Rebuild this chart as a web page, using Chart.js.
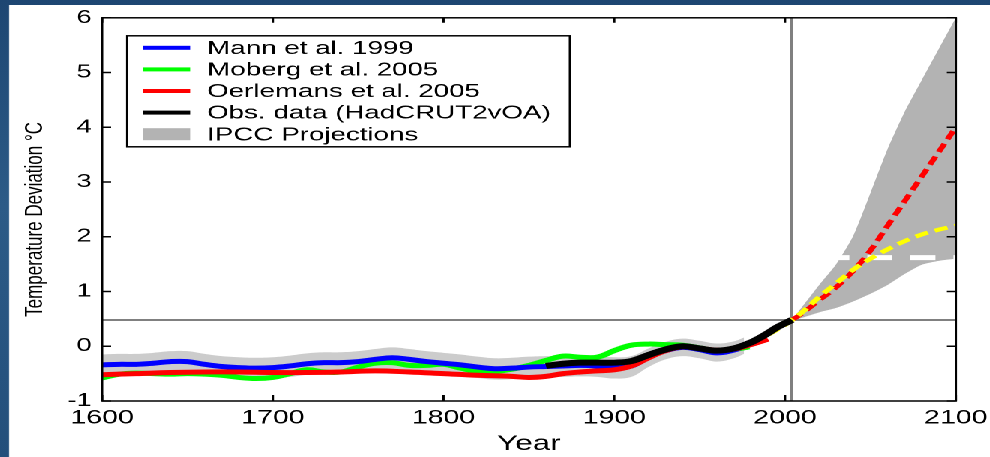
<!DOCTYPE html>
<html>
<head>
<meta charset="utf-8">
<script src="https://cdn.jsdelivr.net/npm/chart.js@4.4.1/dist/chart.umd.min.js"></script>
<style>
  html, body { margin: 0; padding: 0; width: 990px; height: 457px; overflow: hidden;
    background: linear-gradient(180deg, #1d4672 0%, #2c5b87 45%, #234f7b 100%); }
  /* the original figure is stretched 1.5x horizontally */
  #stretch { position: absolute; left: 0; top: 0; width: 660px; height: 457px;
    transform: scaleX(1.5); transform-origin: 0 0; }
  #panel { position: absolute; left: 6px; top: 5px; width: 654px; height: 452px; background: #fff; }
  #chart { position: absolute; left: 0; top: 0; }
</style>
</head>
<body>
<div id="stretch">
  <div id="panel"></div>
  <canvas id="chart" width="660" height="457"></canvas>
</div>
<script>
const FONT = "'Liberation Sans', Arial, sans-serif";

const seriesNames = ['Mann et al. 1999', 'Moberg et al. 2005', 'Oerlemans et al. 2005', 'Obs. data (HadCRUT2vOA)', 'IPCC Projections'];
const yearTicks = [1600, 1700, 1800, 1900, 2000, 2100];
const tempTicks = [-1, 0, 1, 2, 3, 4, 5, 6];

// reference lines
const refLineYears = [1600, 2100];
const refLineLevel = [0.48, 0.48];
const refYear = [2004, 2004];
const refYearSpan = [-1, 6];

// Mann et al. 1999 with its uncertainty band
const mannYears = [1600, 1610, 1620, 1630, 1640, 1650, 1660, 1670, 1680, 1690, 1700, 1710, 1720, 1730, 1740, 1750, 1760, 1770, 1780, 1790,
  1800, 1810, 1820, 1830, 1840, 1850, 1860, 1870, 1880, 1890, 1900, 1910, 1920, 1930, 1940, 1950, 1960, 1970, 1976];
const mannValues = [-0.34, -0.33, -0.33, -0.31, -0.28, -0.28, -0.33, -0.37, -0.39, -0.40, -0.39, -0.36, -0.32, -0.30, -0.30, -0.28, -0.24, -0.21, -0.24, -0.28,
  -0.31, -0.34, -0.38, -0.41, -0.40, -0.38, -0.37, -0.36, -0.35, -0.36, -0.39, -0.36, -0.20, -0.08, -0.02, -0.06, -0.12, -0.07, 0.01];
const mannUpper = [-0.15, -0.14, -0.14, -0.12, -0.09, -0.09, -0.14, -0.18, -0.20, -0.21, -0.20, -0.17, -0.13, -0.11, -0.11, -0.09, -0.05, -0.02, -0.05, -0.09,
  -0.12, -0.15, -0.19, -0.22, -0.21, -0.19, -0.18, -0.17, -0.16, -0.17, -0.20, -0.18, -0.04, 0.08, 0.14, 0.10, 0.05, 0.09, 0.16];
const mannLower = [-0.54, -0.53, -0.53, -0.51, -0.48, -0.48, -0.53, -0.57, -0.59, -0.60, -0.59, -0.56, -0.52, -0.50, -0.50, -0.48, -0.44, -0.41, -0.44, -0.48,
  -0.51, -0.54, -0.58, -0.61, -0.60, -0.58, -0.57, -0.56, -0.55, -0.56, -0.59, -0.56, -0.38, -0.24, -0.18, -0.22, -0.28, -0.22, -0.14];

// Moberg et al. 2005
const mobergYears = [1600, 1610, 1620, 1630, 1640, 1650, 1660, 1670, 1680, 1690, 1700, 1710, 1720, 1730, 1740, 1750, 1760, 1770, 1780, 1790,
  1800, 1810, 1820, 1830, 1840, 1850, 1860, 1870, 1880, 1890, 1900, 1910, 1920, 1930, 1940, 1950, 1960, 1970, 1979];
const mobergValues = [-0.58, -0.51, -0.49, -0.50, -0.51, -0.50, -0.51, -0.53, -0.57, -0.59, -0.57, -0.50, -0.43, -0.47, -0.47, -0.38, -0.31, -0.30, -0.35, -0.35,
  -0.33, -0.40, -0.46, -0.46, -0.42, -0.35, -0.26, -0.18, -0.20, -0.20, -0.08, 0.02, 0.04, 0.03, 0.02, -0.03, -0.08, -0.06, -0.01];

// Oerlemans et al. 2005
const oerlemansYears = [1600, 1620, 1640, 1660, 1680, 1700, 1720, 1740, 1760, 1780, 1800, 1820, 1840, 1850,
  1860, 1870, 1880, 1890, 1900, 1910, 1920, 1930, 1940, 1950, 1960, 1970, 1980, 1990];
const oerlemansValues = [-0.52, -0.50, -0.48, -0.47, -0.47, -0.48, -0.48, -0.47, -0.45, -0.47, -0.50, -0.53, -0.55, -0.57,
  -0.55, -0.50, -0.47, -0.45, -0.43, -0.36, -0.21, -0.08, -0.01, -0.04, -0.07, -0.05, 0.03, 0.13];

// observations
const obsYears = [1860, 1870, 1880, 1890, 1900, 1910, 1920, 1930, 1940, 1950, 1960, 1970, 1980, 1985, 1990, 1995, 2000, 2004];
const obsValues = [-0.36, -0.32, -0.30, -0.30, -0.30, -0.27, -0.16, -0.06, 0.00, -0.04, -0.08, -0.04, 0.07, 0.15, 0.24, 0.34, 0.42, 0.48];

// IPCC projections
const projYears = [2004, 2010, 2020, 2030, 2040, 2050, 2060, 2070, 2080, 2090, 2100];
const ipccUpper = [0.48, 0.72, 1.12, 1.50, 2.02, 2.80, 3.60, 4.28, 4.86, 5.43, 6.00];
const ipccLower = [0.46, 0.52, 0.62, 0.70, 0.82, 0.96, 1.12, 1.32, 1.49, 1.56, 1.60];
const highProj = [0.48, 0.60, 0.84, 1.08, 1.38, 1.75, 2.20, 2.65, 3.10, 3.55, 4.00];
const lowProjYears = [1990, 2000, 2004, 2010, 2020, 2030, 2040, 2050, 2060, 2070, 2080, 2090, 2100];
const lowProj = [0.21, 0.39, 0.48, 0.62, 0.90, 1.15, 1.40, 1.60, 1.77, 1.92, 2.04, 2.13, 2.20];
const bandMarkYears = [2030, 2100];
const bandMarkLevel = [1.62, 1.62];

const toPoints = (xs, ys) => xs.map((x, i) => ({ x: x, y: ys[i] }));

function line(label, xs, ys, color, width, order, extra) {
    return Object.assign({
        label: label,
        data: toPoints(xs, ys),
        borderColor: color,
        backgroundColor: color,
        borderWidth: width,
        pointRadius: 0,
        tension: 0.4,
        fill: false,
        order: order
    }, extra || {});
}

const framePlugin = {
    id: 'frame',
    afterDatasetsDraw(chart) {
        const { ctx, chartArea: a, scales: { x, y } } = chart;
        ctx.save();
        ctx.strokeStyle = '#000';
        ctx.lineWidth = 1.5;
        ctx.strokeRect(a.left, a.top, a.right - a.left, a.bottom - a.top);
        ctx.beginPath();
        yearTicks.forEach(v => {
            const px = x.getPixelForValue(v);
            ctx.moveTo(px, a.bottom); ctx.lineTo(px, a.bottom - 6);
            ctx.moveTo(px, a.top); ctx.lineTo(px, a.top + 5);
        });
        tempTicks.forEach(v => {
            const py = y.getPixelForValue(v);
            ctx.moveTo(a.left, py); ctx.lineTo(a.left + 6, py);
            ctx.moveTo(a.right, py); ctx.lineTo(a.right - 6, py);
        });
        ctx.stroke();
        ctx.restore();
    },
    afterDraw(chart) {
        const { ctx, chartArea: a } = chart;
        ctx.save();

        // legend box
        const bx = a.left + 16.7, by = a.top + 18, bw = 295.3, bh = 111;
        ctx.fillStyle = '#fff';
        ctx.fillRect(bx, by, bw, bh);
        ctx.strokeStyle = '#000';
        ctx.lineWidth = 1.5;
        ctx.strokeRect(bx, by, bw, bh);

        const colors = ['#0000ff', '#00ff00', '#ff0000', '#000000', '#b3b3b3'];
        ctx.font = '18.5px ' + FONT;
        ctx.textBaseline = 'middle';
        ctx.textAlign = 'left';
        seriesNames.forEach((name, i) => {
            const ry = by + 12 + i * 21.6;
            ctx.fillStyle = colors[i];
            if (i < 4) {
                ctx.fillRect(bx + 10.6, ry - 2, 31.4, 4);
            } else {
                ctx.fillRect(bx + 10.6, ry - 6, 31.4, 12);
            }
            ctx.fillStyle = '#000';
            ctx.fillText(name, bx + 53.3, ry + 1);
        });

        // y axis title
        ctx.translate(23.3, (a.top + a.bottom) / 2 + 10);
        ctx.rotate(-Math.PI / 2);
        ctx.textAlign = 'center';
        ctx.font = '17px ' + FONT;
        ctx.fillStyle = '#000';
        ctx.fillText('Temperature Deviation \u00b0C', 0, 0);
        ctx.restore();
    }
};

new Chart(document.getElementById('chart'), {
    type: 'line',
    data: {
        datasets: [
            line('ref level', refLineYears, refLineLevel, '#808080', 2, 20, { tension: 0 }),
            line('ref year', refYear, refYearSpan, '#808080', 2, 20, { tension: 0 }),
            line('Mann upper', mannYears, mannUpper, 'rgba(0,0,0,0)', 0, 15, { fill: '+1', backgroundColor: '#cccccc' }),
            line('Mann lower', mannYears, mannLower, 'rgba(0,0,0,0)', 0, 15),
            line('IPCC upper', projYears, ipccUpper, 'rgba(0,0,0,0)', 0, 14, { fill: '+1', backgroundColor: '#b3b3b3', tension: 0.2 }),
            line('IPCC lower', projYears, ipccLower, 'rgba(0,0,0,0)', 0, 14, { tension: 0.2 }),
            line('band mark', bandMarkYears, bandMarkLevel, '#ffffff', 5, 13, { tension: 0, borderDash: [16.7, 12], borderDashOffset: 8 }),
            line(seriesNames[1], mobergYears, mobergValues, '#00ff00', 5, 8),
            line(seriesNames[0], mannYears, mannValues, '#0000ff', 5, 7),
            line(seriesNames[2], oerlemansYears, oerlemansValues, '#ff0000', 5, 6),
            line('high projection', projYears, highProj, '#ff0000', 4, 5, { borderDash: [9, 5] }),
            line('low projection', lowProjYears, lowProj, '#ffff00', 4, 4, { borderDash: [9, 5] }),
            line(seriesNames[3], obsYears, obsValues, '#000000', 6, 1)
        ]
    },
    options: {
        responsive: false,
        animation: false,
        devicePixelRatio: 2,
        layout: { padding: { left: 0, right: 22.7, top: 15, bottom: 0 } },
        plugins: {
            legend: { display: false },
            tooltip: { enabled: false }
        },
        scales: {
            x: {
                type: 'linear',
                min: 1600,
                max: 2100,
                afterBuildTicks: s => { s.ticks = yearTicks.map(v => ({ value: v })); },
                afterFit: s => { s.height = 56; s.paddingLeft = 0; s.paddingRight = 0; },
                grid: { display: false, drawTicks: false },
                border: { display: false },
                ticks: {
                    color: '#000',
                    font: { family: FONT, size: 19 },
                    padding: 6,
                    maxRotation: 0,
                    autoSkip: false,
                    callback: v => String(v)
                },
                title: {
                    display: true,
                    text: 'Year',
                    color: '#000',
                    font: { family: FONT, size: 21 },
                    padding: { top: 0, bottom: 0 }
                }
            },
            y: {
                type: 'linear',
                min: -1,
                max: 6,
                afterBuildTicks: s => { s.ticks = tempTicks.map(v => ({ value: v })); },
                afterFit: s => { s.width = 68; },
                grid: { display: false, drawTicks: false },
                border: { display: false },
                ticks: {
                    color: '#000',
                    font: { family: FONT, size: 18 },
                    padding: 7,
                    callback: v => String(v)
                }
            }
        }
    },
    plugins: [framePlugin]
});
</script>
</body>
</html>
